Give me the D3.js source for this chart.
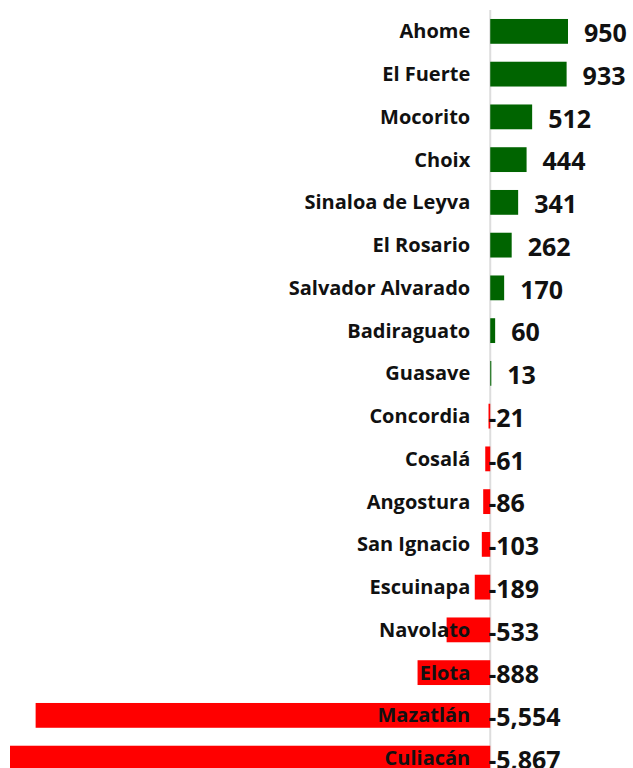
<!DOCTYPE html>
<html>
<head>
<meta charset="utf-8">
<script src="https://cdn.jsdelivr.net/npm/d3@7"></script>
<style>
  body { margin: 0; background: #fff; }
  svg { display: block; }
</style>
</head>
<body>
<div id="chart"></div>
<script>
// municipios de Sinaloa, ordenados de mayor a menor
const municipios = ["Ahome", "El Fuerte", "Mocorito", "Choix", "Sinaloa de Leyva", "El Rosario",
  "Salvador Alvarado", "Badiraguato", "Guasave", "Concordia", "Cosalá", "Angostura",
  "San Ignacio", "Escuinapa", "Navolato", "Elota", "Mazatlán", "Culiacán"]
const valores = [950, 933, 512, 444, 341, 262, 170, 60, 13, -21, -61, -86, -103, -189, -533, -888, -5554, -5867]

const width = 633
const height = 768
const margin = { top: 10, left: 10, bottom: 0, right: 65 }

const data = municipios.map((m, i) => ({ label: m, value: valores[i] }))
const numFormat = d3.format(",")

const svg = d3.select("#chart").append("svg")
    .attr("width", width)
    .attr("height", height)

const x = d3.scaleLinear()
    .domain([d3.min(valores), d3.max(valores)])
    .range([margin.left, width - margin.right])

const y = d3.scaleBand()
    .domain(municipios)
    .range([margin.top, margin.top + 42.75 * municipios.length])
    .paddingInner(0.42)
    .paddingOuter(0.21)

// linea del cero (detras de las barras)
svg.append("line")
    .attr("x1", x(0)).attr("x2", x(0))
    .attr("y1", margin.top).attr("y2", height)
    .attr("stroke", "#dddddd")
    .attr("stroke-width", 2)

// barras
svg.append("g")
    .selectAll("rect")
    .data(data)
    .enter()
    .append("rect")
    .attr("x", d => x(Math.min(0, d.value)))
    .attr("width", d => Math.abs(x(d.value) - x(0)))
    .attr("y", d => y(d.label))
    .attr("height", y.bandwidth())
    .attr("fill", d => d.value >= 0 ? "#006400" : "#ff0000")

// nombres
svg.append("g")
    .selectAll("text")
    .data(data)
    .enter()
    .append("text")
    .attr("x", x(0) - 20)
    .attr("y", d => y(d.label) + y.bandwidth() / 2)
    .attr("dy", "0.35em")
    .style("text-anchor", "end")
    .style("font-family", "'Open Sans', sans-serif")
    .style("font-size", "20px")
    .style("font-weight", "700")
    .style("fill", "#111")
    .text(d => d.label)

// valores
svg.append("g")
    .selectAll("text")
    .data(data)
    .enter()
    .append("text")
    .attr("x", d => d.value >= 0 ? x(d.value) + 16 : x(0) - 2)
    .attr("y", d => y(d.label) + y.bandwidth() / 2 + 2)
    .attr("dy", "0.35em")
    .style("text-anchor", "start")
    .style("font-family", "'Open Sans', sans-serif")
    .style("font-size", "25px")
    .style("font-weight", "700")
    .style("fill", "#111")
    .text(d => numFormat(d.value).replace("−", "-"))
</script>
</body>
</html>
